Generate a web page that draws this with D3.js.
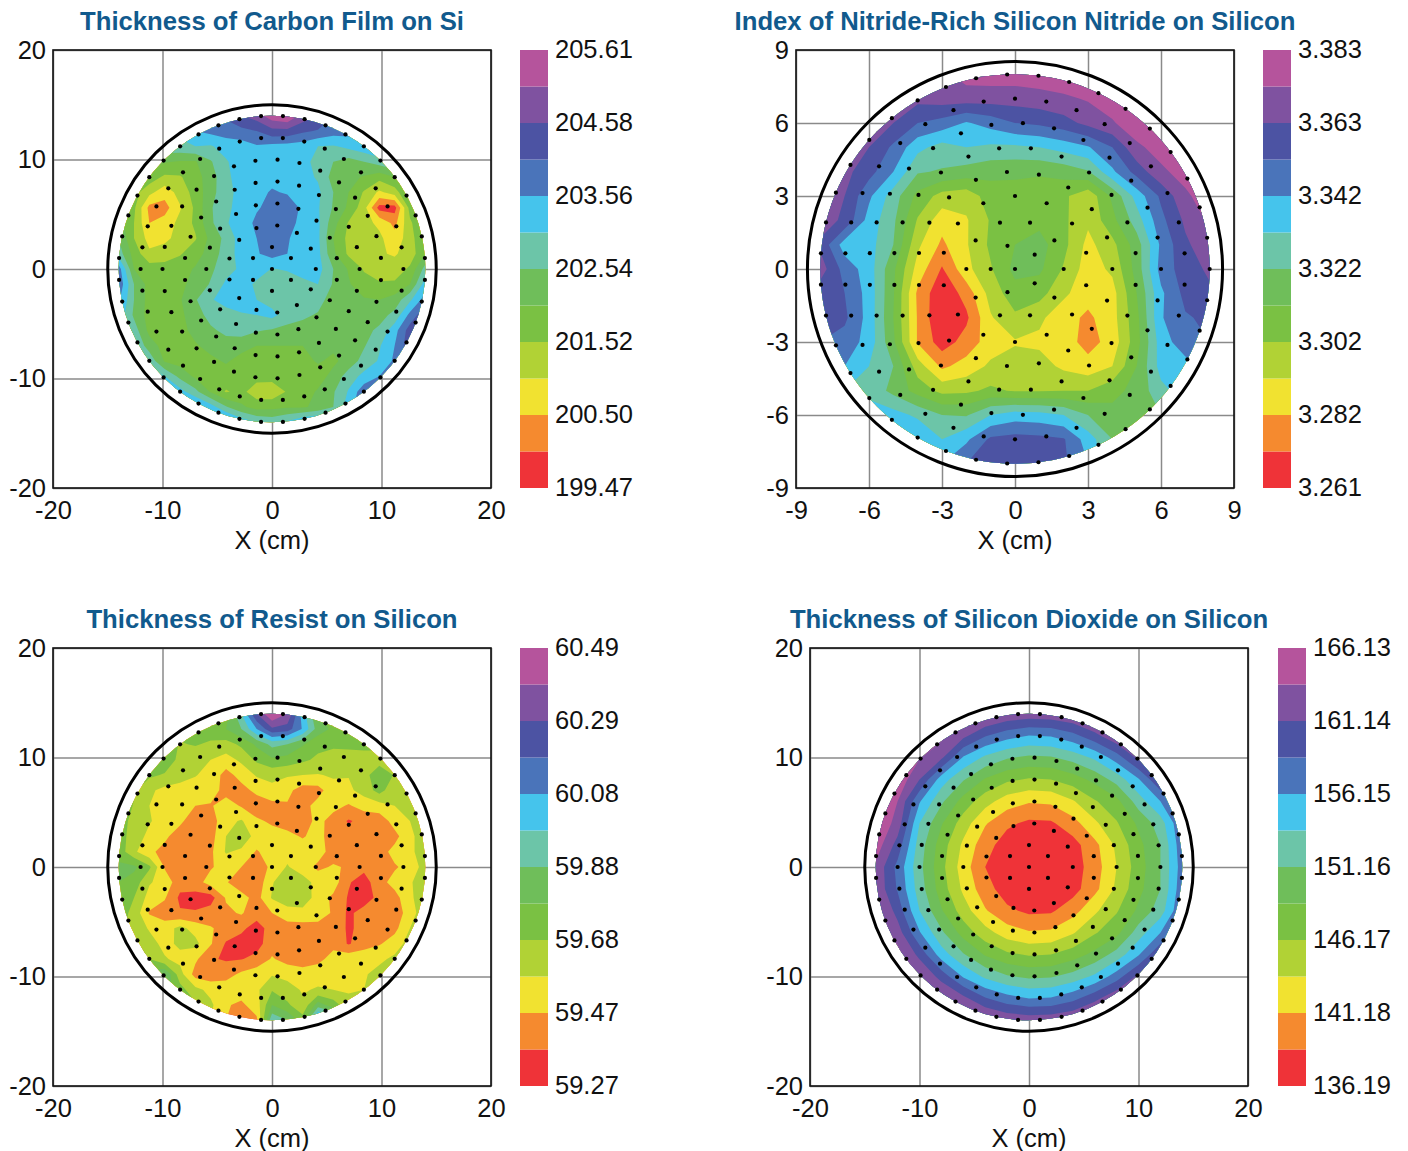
<!DOCTYPE html>
<html>
<head>
<meta charset="utf-8">
<script src="https://cdn.jsdelivr.net/npm/d3@7"></script>
<style>
  html, body { margin: 0; background: #fff; }
  text { font-family: "Liberation Sans", Arial, sans-serif; fill: #111; }
</style>
</head>
<body>
<div id="chart"></div>
<script>
// Each row runs left to right, rows run top to bottom.
const carbonGrid = [
  [7,7,7,7,7.5,8,8.5,9.2,10,10.5,11.6,12,10.6,10,9,8.5,8,8,8,8,8],
  [7,7,7,7,7.2,8,8.3,8.5,8.7,9,9.7,9.7,9.2,8.9,8.5,8.4,8.4,8.4,8.4,8.4,8.4],
  [6.5,6.5,6.5,6.7,6.8,7,6.9,7.4,7.5,7.9,7.7,7.6,7.5,7,6.9,7.3,7.7,8.2,8.5,8.5,8.5],
  [5.5,5.5,5.4,5.1,4.9,4.9,5.9,6.9,7.5,7.6,7.6,7.6,7.5,6.5,6,5.6,6,6.5,7,7.5,8],
  [5,5,4.6,3.8,3.9,4.6,5.5,6.8,7.4,7.6,7.7,7.6,7.3,6.9,5.6,5.3,4.9,4.4,5,6,6.5],
  [4.8,4.4,3.3,2.4,3.4,4.4,5.6,6.7,7.3,7.7,8.1,7.9,7.3,7.2,6,5,3.9,2.8,3.5,5.3,6],
  [4.8,4.2,1.7,1.6,2.9,4.2,5.9,6.7,7.5,7.9,8.3,8.6,7.8,7.1,5.9,4.8,3.4,0.6,0.6,4.4,5.7],
  [5.5,4,2,2.4,3.3,4.2,5.8,6.9,7.5,8.2,8.6,8.5,7.6,7.2,5.4,3.9,3.3,2.8,1.7,3.8,5.2],
  [6,4,2.6,2.8,3.3,3.9,5.3,6.3,7.5,8,8.5,8.1,7.5,7.2,5,3.7,3.2,3.2,2.4,3.5,5.2],
  [6.5,4.6,3.2,3.4,3.9,4.6,5.4,6.5,7.4,7.9,8.4,8,7.5,7.3,5.2,3.8,3.3,3.1,2.9,3.4,5],
  [8.5,5,4.5,4.5,4.6,5.1,5.8,6.6,7.2,7.5,6.95,7.1,7.6,7.4,6,4.9,3.9,3.6,3.4,4.2,6.4],
  [8.8,6,4.6,4.6,4.8,5.3,6.1,7.2,7.5,6.8,6.5,6.4,6.6,7,5.9,5.1,4.4,4.1,4.2,5,7.5],
  [8.2,6,4.6,4.6,4.9,5.9,6.9,7.4,7.5,7,6.6,6.4,6.4,6.4,5.5,5.3,5.1,5,5.4,6.8,8.5],
  [7.8,5.8,4.6,4.6,4.8,5.5,6.4,6.6,6.9,7,7.3,6.5,6.2,5.9,5.4,5.4,5.4,5.6,6.3,8.3,9.8],
  [7.5,6.5,4.7,4.5,4.7,5.3,5.8,6.3,6.5,6.1,5.9,5.7,5.6,5.4,5.4,5.5,5.7,6.2,7.6,9.5,10],
  [8,7,5.5,4.6,4.6,4.9,5.3,5.5,5.3,5,5,5,5,5.3,5.2,5.4,5.9,6.9,8,9.7,10],
  [8,8,6.7,4.9,4.6,4.7,4.8,5.1,4.7,4.6,4.6,4.5,4.7,5.1,4.8,5.4,6.4,7.1,8.2,9.5,9.5],
  [8,8,7.5,7,5.7,4.8,4.6,4.6,4.5,4.4,4.4,4.4,4.4,4.6,5.3,6.5,7.3,8,8.5,9,9],
  [8.5,8.5,8.5,7.7,7.4,6.3,4.9,3.9,4.3,3.4,3.3,4.1,4.6,5.1,5.9,7.1,8.7,9,9,9,9],
  [9,9,9,9,8.5,8.4,7.5,6.1,5.2,4.6,4.7,4.9,4.9,5.2,6,7.5,9,9,9,9,9],
  [9.5,9.5,9.5,9.5,9.5,9.5,9.5,8.8,7.7,7,6.7,7.2,8,8.5,9,9,9,9,9,9,9]
];

const nitrideGrid = [
  [10.5,10.5,10.5,10.5,10.5,10.8,11.4,11.5,11.5,11.6,11.8,12,12,12,12,12,12],
  [10.5,10.5,10.4,10.3,10.3,10.5,10.5,10.45,10.45,10.6,10.8,11.1,11.5,11.9,12,12,12],
  [10.5,10.5,10.3,10,9,8.6,7.9,8.4,9,9.2,9.6,10.3,10.9,11.6,11.9,12,12],
  [10.5,10.5,10,8.8,7.3,6.6,7,6.8,6.8,7,7.4,7.9,9,10.8,11.4,11.9,12],
  [10.5,10.3,9.4,8,6.1,5.9,5.6,5.3,5.2,5.1,5.4,5.9,7.8,9.4,10.8,11.4,12],
  [10.5,10,8.2,6.5,4.7,3.6,3.4,4.5,4.6,4.6,4.2,3.3,5.2,7.4,9.2,10.8,11.6],
  [10.5,9.8,7.6,6.2,3.9,2.4,2.9,4.1,4.5,4.7,4.2,3.2,4.7,6.5,8.7,10.2,11.2],
  [9.8,7.5,7.4,6,3.2,1.8,2.9,4.2,5,5.4,4.3,2.7,3.7,5.5,8.2,9.8,10.7],
  [10.5,8.6,7.5,5.2,2.6,0.9,2.7,3.9,5.3,5.2,3.9,2.5,3.2,5.4,8.4,9.5,10.2],
  [9.4,9,7.6,5.1,1.8,0.2,1.4,3.4,4.6,4.4,3.2,2.4,2.6,5,7.8,9.3,9.8],
  [9.3,9.2,7.6,5,1.9,0,0.8,2.9,3.8,3.2,2.4,1.8,2.6,4.7,7.9,8.9,9.2],
  [9,8.6,7.6,5.2,1.9,0.5,1.4,2.5,2.9,2.8,2.5,1.6,2.4,4.6,7.5,8.6,9],
  [8.5,8,7,6,3.5,1.8,2.4,3.2,3.5,3.4,2.8,2.4,3,5,7.4,7.6,8],
  [7.5,7,6.7,5.7,4.6,3.7,3.8,4.2,3.9,3.9,4,4,4.7,5.3,6.7,7.5,8],
  [7.5,7.5,7.5,7.4,6.8,6,5.9,7,7.5,7.4,7,6,5.3,5.3,6,7,7.5],
  [8,8,8,8,8,7,7.8,9.2,9.4,9.3,9.1,7.5,6,5.7,6,6.5,7],
  [8,8,8,8,8,8,9,9.5,9.5,9.4,9.2,8,6,6,6,6,6]
];

const resistGrid = [
  [4.5,4.5,4.5,4.5,4.5,4.5,4.5,4.5,7,10,12,11,7.5,5,4.5,4.5,4.5,4.5,4.5,4.5,4.5],
  [4.5,4.5,4.5,4.5,4.4,4.3,4.6,5,6,8,9.8,9.5,7.9,5.5,4.8,4.6,4.5,4.5,4.5,4.5,4.5],
  [4.5,4.5,4.5,4.8,3.9,4.1,3.8,3.6,4.2,5.2,6.3,6,5.1,4.3,4.2,4.3,4.4,4.4,4.2,4.2,4.2],
  [5,5,5,4.7,3.7,3.2,3,2.6,3.2,4.2,4.8,4.6,4.2,3.8,3.5,3.4,3.4,3.4,3.5,4,4],
  [5,4.5,4.2,3.9,3.4,3.05,2.7,1.6,2.4,3.1,3.3,3.1,3,2.95,3.1,3.05,3.5,4.9,3.9,3.5,4],
  [4.5,4.2,3.2,2.7,2.6,2.6,2.5,1.6,1.6,2.3,2.7,2.3,1.5,1.6,2.7,2.8,3.4,4.4,3.3,3.4,4],
  [5,3.9,3,2.6,2.5,2,1.9,2.5,1.9,1.3,1.7,1.9,1.6,2.4,2.3,1.9,2.4,2.6,3,3.3,4],
  [4.6,3.6,3.1,2.5,2.2,1.4,1.5,2.7,3.1,2.2,1.8,1.5,1.5,2.3,1.6,0.9,1.3,1.4,2.4,3,3.8],
  [4.4,3.6,2.7,2.2,1.5,1.3,1.6,3,3.7,2.6,2.5,2.3,1.9,2.4,1.4,1.3,1.2,1.3,1.7,2.7,3.7],
  [4.6,3.2,2.2,1.7,1.3,1.4,1.8,3.1,2.8,1.9,2.5,2.6,2.6,2.4,1.6,1.4,1.4,1.6,2.3,2.7,3.7],
  [5.2,5.2,4.2,1.9,1.5,1.6,1.9,2.4,2,1.5,2.2,3.1,2.4,1.8,2.1,1.9,1.3,1.5,1.9,2.3,3.5],
  [5,4.6,3.1,2.6,1.4,1.6,2.4,2.1,1.3,1.3,2.9,3.8,3.5,2.6,2.5,1.1,0.5,1.7,2.3,2.9,3.5],
  [4.7,4,2.6,2.1,0.8,0.6,0.6,2.1,2.4,1.6,3.1,3.7,3.7,2.5,1.8,0.9,0.5,1.3,1.7,2.6,4.3],
  [4.5,3.7,1.9,1.5,1.1,1.1,1.4,1.8,2.1,1.4,2,2.5,2.6,2.4,1.9,0.8,1.4,1.4,1.4,2.5,3.7],
  [4.4,3.6,2.9,2.5,3.3,2.6,2.1,1.6,1.2,0.6,1.4,1.6,1.6,1.7,1.8,0.8,1.4,1.5,1.7,3,3.8],
  [4.3,4.3,3.4,2.7,3.2,3.3,2.1,0.9,0.6,0.6,1.6,1.6,1.1,1,1.7,0.9,1.6,1.9,2.5,3.4,4],
  [4.6,4.6,4,3.1,2.7,2.2,1.1,0.9,0.95,1.3,2.1,1.6,1.4,1.7,2.4,2.7,2.6,2.8,3.2,4,4],
  [5.5,5.5,5.5,6,3.4,1.6,1.4,1.6,2.2,2.6,2.9,2.7,2.5,2.6,2.7,2.7,2.9,3.3,4,4,4],
  [6,6,6,5.5,4.4,3.3,2.7,2.6,2.5,2.8,3.9,3.4,2.9,3.1,3,2.9,3,3.5,4,4,4],
  [6,6,6,6,5.5,4.2,3.2,2.1,1.8,2.5,5,4.2,3.2,5.5,4.5,3.3,3.5,4,4,4,4],
  [6,6,6,6,6,5,3,2,1.5,1.8,6.8,6,4.5,9,8,5,4,4,4,4,4]
];

const dioxideGrid = [
  [12.5,12.5,12.5,12,11.5,11.3,10.8,10.6,10.7,11,11.6,12,12,12,12],
  [12.5,12.5,12,11.3,10.3,9.1,8.4,8,8.1,8.7,9.7,10.9,11.8,12,12],
  [12.5,12,11.1,10.2,7.9,6.8,6.1,5.8,5.9,6.4,7.2,8.5,10.3,11.5,12],
  [12.5,11.8,10,7.5,6.1,4.9,4.2,3.9,4,4.5,5.3,6.4,7.9,10,12],
  [12,11,8.1,6.2,4.6,3.4,2.5,2.1,2.2,2.9,3.9,4.7,6.5,8,10],
  [12,10.6,7,5.1,3.5,2.1,1.2,0.8,0.85,1.6,2.8,3.9,5.2,6.5,9],
  [11.6,9.6,6.5,4.5,2.8,1.4,0.5,0.2,0.3,0.6,1.7,3.2,4.7,6,8.7],
  [10.8,8.7,6.3,4.3,2.5,1,0.4,0.1,0.2,0.5,1.5,3,4.5,6,8.5],
  [10.8,8.9,6.5,4.5,2.8,1.4,0.5,0.2,0.3,0.6,1.7,3.2,4.7,6,8.7],
  [11.5,9.6,7,5.1,3.5,2.1,1.2,0.8,0.85,1.6,2.8,3.9,5.2,6.5,9],
  [12,10.5,8.1,6.2,4.6,3.4,2.5,2.1,2.2,2.9,3.9,4.7,6.5,8,10],
  [12.5,11.4,9.7,7.5,6.1,4.9,4.2,3.9,4,4.5,5.3,6.4,7.9,10,12],
  [12.5,12,11.1,9.6,7.9,6.8,6.1,5.8,5.9,6.4,7.2,8.5,10.3,11.5,12],
  [12.5,12.5,12,11.3,10.3,9.1,8.4,8,8.1,8.7,9.7,10.9,11.8,12,12],
  [12.5,12.5,12.5,12,11.5,11.3,10.8,10.6,10.7,11,11.6,12,12,12,12]
];

// Legend labels, bottom to top
const carbonLegend = ["199.47","200.50","201.52","202.54","203.56","204.58","205.61"];
const nitrideLegend = ["3.261","3.282","3.302","3.322","3.342","3.363","3.383"];
const resistLegend = ["59.27","59.47","59.68","59.88","60.08","60.29","60.49"];
const dioxideLegend = ["136.19","141.18","146.17","151.16","156.15","161.14","166.13"];

const ticks20 = [-20,-10,0,10,20];
const ticks9 = [-9,-6,-3,0,3,6,9];

// Measurement sites: rings of points around the centre
const ringRadii15 = [0,2,4,6,8,10,12,14];
const ringCounts15 = [1,6,13,19,25,31,38,44];
const ringRadii8 = [0,1,2,3,4,5,6,7,8];
const ringCounts8 = [1,5,10,14,19,24,29,34,39];

// red up to magenta
const bandColors = ["#ef3338","#f58a2f","#f1e230","#b1d235","#7ac143","#6fbe5a","#6cc5a8",
                    "#45c4ec","#4a74ba","#4c53a3","#7f52a0","#b5549c"];

const panels = [
  { title: "Thickness of Carbon Film on Si", grid: carbonGrid, legend: carbonLegend, ticks: ticks20,
    radii: ringRadii15, counts: ringCounts15, waferR: 14, edgeR: 15, left: 53, top: 50, legendLeft: 520 },
  { title: "Index of Nitride-Rich Silicon Nitride on Silicon", grid: nitrideGrid, legend: nitrideLegend, ticks: ticks9,
    radii: ringRadii8, counts: ringCounts8, waferR: 8, edgeR: 8.53, left: 796, top: 50, legendLeft: 1263 },
  { title: "Thickness of Resist on Silicon", grid: resistGrid, legend: resistLegend, ticks: ticks20,
    radii: ringRadii15, counts: ringCounts15, waferR: 14, edgeR: 15, left: 53, top: 648, legendLeft: 520 },
  { title: "Thickness of Silicon Dioxide on Silicon", grid: dioxideGrid, legend: dioxideLegend, ticks: ticks20,
    radii: ringRadii15, counts: ringCounts15, waferR: 14, edgeR: 15, left: 810, top: 648, legendLeft: 1278 }
];

const size = 438;
const fontSize = 25.5;

const svg = d3.select("#chart")
    .append("svg")
    .attr("width", 1408)
    .attr("height", 1151)
    .attr("viewBox", [0, 0, 1408, 1151])
    .style("display", "block");

panels.forEach((p, idx) => {
    const g = svg.append("g").attr("transform", `translate(${p.left},${p.top})`);
    const extent = p.ticks[p.ticks.length - 1];

    const x = d3.scaleLinear().domain([-extent, extent]).range([0, size]);
    const y = d3.scaleLinear().domain([-extent, extent]).range([size, 0]);

    // Title
    g.append("text")
        .attr("x", size / 2)
        .attr("y", -20)
        .attr("text-anchor", "middle")
        .style("font-size", "25.7px")
        .style("font-weight", "bold")
        .style("fill", "#115a8d")
        .text(p.title);

    // Axes, the ticks double as the grid lines
    const xAxis = d3.axisBottom(x).tickValues(p.ticks).tickSize(-size).tickPadding(13).tickFormat(String);
    const yAxis = d3.axisLeft(y).tickValues(p.ticks).tickSize(-size).tickPadding(7).tickFormat(String);

    [g.append("g").attr("transform", `translate(0,${size})`).call(xAxis),
     g.append("g").call(yAxis)].forEach(a => {
        a.select(".domain").remove();
        a.selectAll("line").attr("stroke", "#8a8a8a").attr("stroke-width", 1.5);
        a.selectAll("text").style("font-size", `${fontSize}px`).style("fill", "#111");
    });

    g.append("text")
        .attr("x", size / 2)
        .attr("y", size + 61)
        .attr("text-anchor", "middle")
        .style("font-size", `${fontSize}px`)
        .text("X (cm)");

    // Filled contours, clipped to the wafer
    const n = p.grid.length;
    const step = 2 * p.waferR / (n - 1);
    const contours = d3.contours()
        .size([n, n])
        .thresholds(d3.range(0, 12))(p.grid.flat());

    // contour coordinates have grid nodes at i + 0.5
    const project = d3.geoTransform({
        point(cx, cy) {
            this.stream.point(x(-p.waferR + (cx - 0.5) * step), y(p.waferR - (cy - 0.5) * step));
        }
    });

    const clipId = `wafer-${idx}`;
    g.append("clipPath").attr("id", clipId)
        .append("circle")
        .attr("cx", x(0)).attr("cy", y(0))
        .attr("r", x(p.waferR) - x(0));

    g.append("g")
        .attr("clip-path", `url(#${clipId})`)
        .selectAll("path")
        .data(contours)
        .join("path")
        .attr("d", d3.geoPath(project))
        .attr("fill", d => bandColors[d.value]);

    // Plot frame
    g.append("rect")
        .attr("width", size).attr("height", size)
        .attr("fill", "none")
        .attr("stroke", "#111")
        .attr("stroke-width", 1.6);

    // Wafer outline
    g.append("circle")
        .attr("cx", x(0)).attr("cy", y(0))
        .attr("r", x(p.edgeR) - x(0))
        .attr("fill", "none")
        .attr("stroke", "#000")
        .attr("stroke-width", 3);

    // Measurement sites
    const sites = [];
    p.radii.forEach((r, i) => {
        const count = p.counts[i];
        // every other ring starts half a step round
        const offset = i % 2 === 1 ? 0.5 : 0;
        d3.range(count).forEach(k => {
            const a = (k + offset) * 2 * Math.PI / count;
            sites.push([r * Math.cos(a), r * Math.sin(a)]);
        });
    });

    g.append("g").selectAll("circle")
        .data(sites)
        .join("circle")
        .attr("cx", d => x(d[0]))
        .attr("cy", d => y(d[1]))
        .attr("r", 2.1)
        .attr("fill", "#000");

    // Colour legend
    const legendY = d3.scaleLinear().domain([0, 12]).range([size, 0]);
    const legend = g.append("g").attr("transform", `translate(${p.legendLeft - p.left},0)`);

    legend.selectAll("rect")
        .data(bandColors)
        .join("rect")
        .attr("y", (d, i) => legendY(i + 1))
        .attr("width", 28)
        .attr("height", (d, i) => legendY(i) - legendY(i + 1))
        .attr("fill", d => d);

    legend.selectAll("text")
        .data(p.legend)
        .join("text")
        .attr("x", 35)
        .attr("y", (d, i) => legendY(i * 2))
        .attr("dy", "0.3em")
        .style("font-size", `${fontSize}px`)
        .text(d => d);
});
</script>
</body>
</html>
